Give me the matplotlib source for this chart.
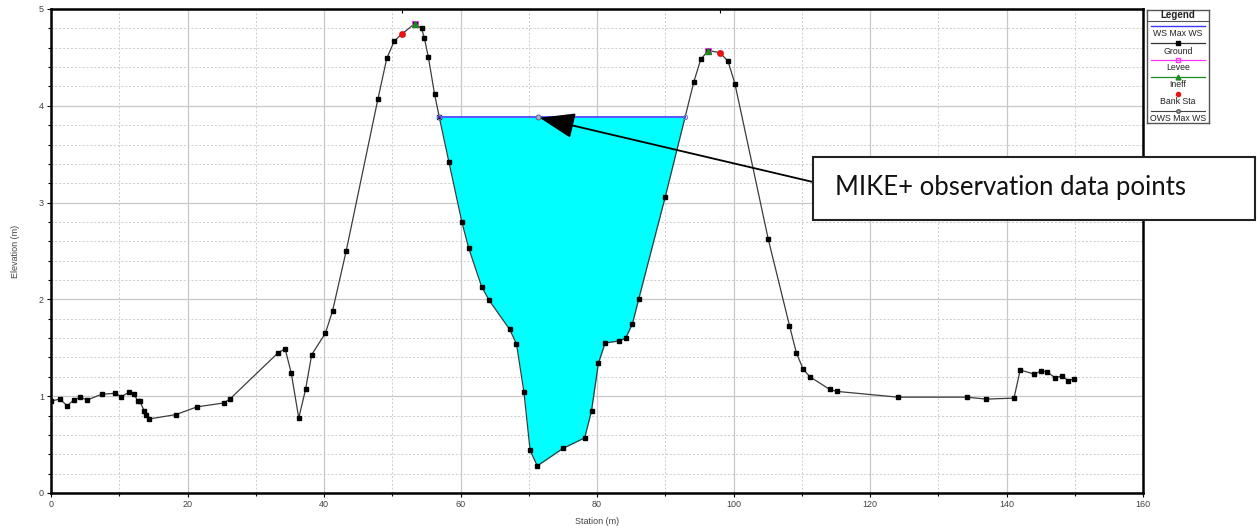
import numpy as np
import matplotlib
matplotlib.use("Agg")  # No display needed
import matplotlib.pyplot as plt
from matplotlib.patches import Rectangle
from matplotlib.lines import Line2D

plt.rcParams["font.family"] = ["Liberation Sans", "DejaVu Sans"]

# Cross-section ground profile (station m, elevation m)
station = [0, 1.3, 2.4, 3.3, 4.3, 5.3, 7.4, 9.4, 10.3, 11.4,
           12.2, 12.7, 13.0, 13.65, 13.9, 14.4, 18.3, 21.4, 25.3, 26.2,
           33.3, 34.3, 35.2, 36.3, 37.3, 38.2, 40.2, 41.25, 43.25, 47.9,
           49.2, 50.3, 51.4, 53.3, 54.3, 54.7, 55.3, 56.2, 56.9, 58.3,
           60.2, 61.2, 63.1, 64.2, 67.2, 68.2, 69.3, 70.2, 71.25, 75.0,
           78.2, 79.2, 80.2, 81.2, 83.2, 84.2, 85.2, 86.1, 90.0, 94.2,
           95.2, 96.3, 98.0, 99.2, 100.2, 105.1, 108.2, 109.2, 110.2, 111.2,
           114.1, 115.1, 124.1, 134.2, 137.0, 141.1, 142.0, 144.0, 145.1, 146.0,
           147.1, 148.2, 149.0, 149.9]
elevation = [0.95, 0.97, 0.90, 0.96, 0.99, 0.96, 1.02, 1.03, 0.995, 1.04,
             1.02, 0.95, 0.95, 0.85, 0.81, 0.765, 0.81, 0.89, 0.93, 0.97,
             1.45, 1.49, 1.24, 0.775, 1.07, 1.43, 1.65, 1.88, 2.50, 4.07,
             4.49, 4.67, 4.74, 4.85, 4.80, 4.70, 4.50, 4.12, 3.88, 3.42,
             2.80, 2.53, 2.13, 1.99, 1.69, 1.54, 1.04, 0.44, 0.28, 0.46,
             0.57, 0.85, 1.34, 1.55, 1.57, 1.60, 1.75, 2.00, 3.06, 4.25,
             4.48, 4.57, 4.55, 4.46, 4.23, 2.62, 1.73, 1.45, 1.28, 1.20,
             1.07, 1.05, 0.99, 0.99, 0.97, 0.98, 1.27, 1.23, 1.26, 1.25,
             1.19, 1.21, 1.16, 1.18]

ws_max = 3.88                 # WS Max WS
channel_range = (50, 100)     # main channel between the levees
obs_x = [71.4]                # OWS Max WS (MIKE+ observation)
obs_ws = [3.88]
levee_x = [53.3, 96.3]
levee_y = [4.85, 4.57]
ineff_x = [53.3, 96.3]
ineff_y = [4.85, 4.57]
bank_x = [51.4, 98.0]
bank_y = [4.74, 4.55]

W, H = 1257, 526
x = np.array(station)
g = np.array(elevation)

# water surface edges inside the channel
sel = np.where((x >= channel_range[0]) & (x <= channel_range[1]))[0]
cross = []
for i, j in zip(sel[:-1], sel[1:]):
    if (g[i] - ws_max) * (g[j] - ws_max) <= 0 and g[i] != g[j]:
        cross.append(x[i] + (ws_max - g[i]) / (g[j] - g[i]) * (x[j] - x[i]))
xl, xr = cross[0], cross[-1]
inside = (x > xl) & (x < xr)
fx = np.concatenate([[xl], x[inside], [xr]])
fy = np.concatenate([[ws_max], g[inside], [ws_max]])

fig = plt.figure(figsize=(W / 100, H / 100), dpi=100)
ax = fig.add_axes([51 / W, 1 - 493 / H, (1143 - 51) / W, (493 - 9) / H])

ax.fill_between(fx, fy, ws_max, color="#00ffff", lw=0, zorder=2)
ax.plot(x, g, color="#3c3c3c", lw=0.9, marker="s", ms=3.2, mfc="black", mec="black", zorder=3)
ax.plot([xl, xr], [ws_max, ws_max], color="#3a3aff", lw=1.2, zorder=4,
        marker="o", ms=3, mfc="none", mec="#7777cc", mew=0.8)
ax.plot(obs_x, obs_ws, ls="none", marker="o", ms=3.5, mfc="#b0b0d0", mec="#666688", mew=0.8, zorder=5)
ax.plot(levee_x, levee_y, ls="none", marker="s", ms=4.5, mfc="none", mec="#ff33ff", mew=0.8, zorder=5)
ax.plot(ineff_x, ineff_y, ls="none", marker="^", ms=4.5, color="#1a8a1a", zorder=6)
ax.plot(bank_x, bank_y, ls="none", marker="o", ms=3.8, color="#ee1111", zorder=6)

ax.set_xlim(0, 160)
ax.set_ylim(0, 5)
ax.set_xticks(np.arange(0, 161, 20))
ax.set_xticks(np.arange(0, 161, 10), minor=True)
ax.set_yticks(np.arange(0, 6, 1))
ax.set_yticks(np.arange(0, 5.01, 0.2), minor=True)
ax.grid(which="major", color="#c8c8c8", lw=0.9, ls="-", zorder=0)
ax.grid(which="minor", color="#cccccc", lw=0.7, ls=(0, (2, 2)), zorder=0)
ax.set_axisbelow(True)
ax.tick_params(which="both", direction="out", length=3, width=0.8, labelsize=6.5,
               labelcolor="#444444", pad=2)
ax.tick_params(which="minor", length=2)
for s in ax.spines.values():
    s.set_linewidth(1.8)
ax.set_xlabel("Station (m)", fontsize=6.5, color="#444444", labelpad=6)
ax.set_ylabel("Elevation (m)", fontsize=6.5, color="#444444", labelpad=14)

top = ax.secondary_xaxis("top")
top.set_xticks(bank_x)
top.set_xticklabels([])
top.tick_params(direction="in", length=3, width=0.8)

# legend panel (HEC-RAS style: symbol line above its label)
lg = fig.add_axes([1147 / W, 1 - 123 / H, 62 / W, 113 / H])
lg.set_xlim(1147, 1209)
lg.set_ylim(123, 10)
lg.set_xticks([])
lg.set_yticks([])
for s in lg.spines.values():
    s.set_linewidth(1.0)
    s.set_color("#555555")
lg.text(1178, 15.5, "Legend", ha="center", va="center", fontsize=7, fontweight="bold", color="#222222")
lg.axhline(21, color="#555555", lw=0.8)
entries = [
    ("WS Max WS", dict(color="#3a3aff", lw=1.0)),
    ("Ground", dict(color="#333333", lw=0.9, marker="s", ms=2.5, mfc="black", mec="black")),
    ("Levee", dict(color="#ff33ff", lw=0.9, marker="s", ms=3.5, mfc="none", mec="#ff33ff")),
    ("Ineff", dict(color="#1a8a1a", lw=0.9, marker="^", ms=3.5)),
    ("Bank Sta", dict(ls="none", marker="o", ms=3, color="#ee1111")),
    ("OWS Max WS", dict(color="#444444", lw=0.8, marker="o", ms=2.5, mfc="#b0b0d0", mec="#555555")),
]
for k, (label, style) in enumerate(entries):
    yl = 26 + k * 17
    lg.add_line(Line2D([1151, 1205], [yl, yl], markevery=[], **style))
    lg.plot([1178], [yl], **style)
    lg.text(1178, yl + 8, label, ha="center", va="center", fontsize=6.3, color="#222222")

# callout box with arrow to the observation point
fig.add_artist(Rectangle((813 / W, 1 - 220 / H), 442 / W, 63 / H, transform=fig.transFigure,
                         fc="white", ec="#222222", lw=1.5, zorder=10))
fig.text(835 / W, 1 - 195 / H, "MIKE+ observation data points", fontsize=18.5,
         family=["Lato", "DejaVu Sans"], color="#111111", va="baseline", zorder=11)
ax.annotate("", xy=(obs_x[0], obs_ws[0]), xycoords="data",
            xytext=(813, H - 182), textcoords="figure pixels",
            arrowprops=dict(arrowstyle="-|>,head_length=2.2,head_width=0.8", color="black", lw=1.3,
                            shrinkA=0, shrinkB=1),
            zorder=9, annotation_clip=False)

fig.savefig("out.png", dpi=100)
